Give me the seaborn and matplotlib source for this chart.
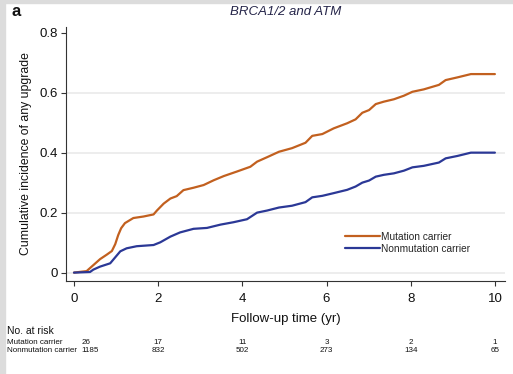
import matplotlib
matplotlib.use("Agg")
import matplotlib.pyplot as plt
import matplotlib.transforms as mtransforms
from matplotlib.patches import Rectangle
import numpy as np
import pandas as pd
import seaborn as sns

# Cumulative incidence of any upgrade over follow-up (years)
time_mut = [0, 0.3, 0.46, 0.62, 0.78, 0.9, 0.98, 1.05, 1.12, 1.21, 1.41, 1.65, 1.89, 1.97,
            2.13, 2.29, 2.44, 2.6, 2.84, 3.08, 3.32, 3.56, 3.87, 4.19, 4.35, 4.59, 4.87,
            5.18, 5.5, 5.66, 5.9, 6.17, 6.49, 6.69, 6.85, 7.01, 7.17, 7.36, 7.6, 7.84,
            8.04, 8.31, 8.67, 8.83, 9.11, 9.43, 10.0]
cif_mut = [0, 0.005, 0.025, 0.045, 0.06, 0.072, 0.095, 0.125, 0.148, 0.165, 0.182, 0.187,
           0.194, 0.207, 0.23, 0.247, 0.255, 0.275, 0.283, 0.292, 0.308, 0.322, 0.337,
           0.353, 0.37, 0.385, 0.403, 0.415, 0.433, 0.456, 0.462, 0.481, 0.498, 0.511,
           0.533, 0.542, 0.562, 0.57, 0.578, 0.59, 0.603, 0.611, 0.626, 0.642, 0.651,
           0.662, 0.662]

time_non = [0, 0.38, 0.46, 0.62, 0.86, 0.98, 1.1, 1.25, 1.49, 1.89, 2.05, 2.29, 2.52,
            2.84, 3.16, 3.48, 3.79, 4.11, 4.35, 4.59, 4.87, 5.18, 5.5, 5.66, 5.9, 6.17,
            6.49, 6.69, 6.85, 7.01, 7.17, 7.36, 7.6, 7.84, 8.04, 8.31, 8.67, 8.83, 9.11,
            9.43, 10.0]
cif_non = [0, 0.002, 0.01, 0.02, 0.031, 0.051, 0.071, 0.081, 0.088, 0.092, 0.101, 0.12,
           0.134, 0.146, 0.149, 0.16, 0.168, 0.178, 0.2, 0.207, 0.217, 0.223, 0.235,
           0.251, 0.256, 0.265, 0.276, 0.287, 0.3, 0.307, 0.32, 0.326, 0.331, 0.34,
           0.351, 0.356, 0.367, 0.381, 0.389, 0.4, 0.4]

groups = ["Mutation carrier", "Nonmutation carrier"]
colors = ["#c2601f", "#2b3896"]

risk_times = [0, 2, 4, 6, 8, 10]
risk_mut = [26, 17, 11, 3, 2, 1]
risk_non = [1185, 832, 502, 273, 134, 65]

x_ticks = [0, 2, 4, 6, 8, 10]
y_ticks = [0, 0.2, 0.4, 0.6, 0.8]
y_tick_labels = ["0", "0.2", "0.4", "0.6", "0.8"]

df = pd.concat([
    pd.DataFrame({"time": time_mut, "cif": cif_mut, "group": groups[0]}),
    pd.DataFrame({"time": time_non, "cif": cif_non, "group": groups[1]}),
], ignore_index=True)

sns.set_style("white")
plt.rcParams["font.family"] = ["Liberation Sans", "DejaVu Sans"]

fig = plt.figure(figsize=(5.13, 3.74), dpi=100)
fig.patch.set_facecolor("white")
W, H = 513, 374
ax = fig.add_axes([66 / W, (H - 281) / H, (505 - 66) / W, (281 - 27) / H])

# light frame strips along the top and left edges
fig.patches.append(Rectangle((0, 1 - 3 / H), 1, 3 / H, transform=fig.transFigure,
                             color="#dcdcdc", zorder=0))
fig.patches.append(Rectangle((0, 0), 5 / W, 1, transform=fig.transFigure,
                             color="#dcdcdc", zorder=0))

ax.set_xlim(-0.19, 10.24)
ax.set_ylim(-0.028, 0.819)

for yv in y_ticks[:-1]:
    ax.axhline(yv, color="#ececec", lw=1.3, zorder=0)

sns.lineplot(data=df, x="time", y="cif", hue="group", hue_order=groups,
             palette=colors, lw=1.6, ax=ax, legend=False, zorder=3)

for side in ["top", "right"]:
    ax.spines[side].set_visible(False)
for side in ["left", "bottom"]:
    ax.spines[side].set_color("#333333")
    ax.spines[side].set_linewidth(0.8)

ax.set_xticks(x_ticks)
ax.set_yticks(y_ticks)
ax.set_yticklabels(y_tick_labels)
ax.tick_params(axis="both", direction="out", length=3.5, width=0.8, color="#333333",
               labelsize=9.5, labelcolor="#111111")
ax.tick_params(axis="x", pad=5)
ax.tick_params(axis="y", pad=2)
ax.tick_params(bottom=True, left=True)

ax.set_xlabel("Follow-up time (yr)", fontsize=9.5, labelpad=6, color="#111111")
ax.set_ylabel("Cumulative incidence of any upgrade", fontsize=8.8, labelpad=6,
              color="#111111")

fig.text(0.5 * (66 + 505) / W, 1 - 12 / H, "BRCA1/2 and ATM", ha="center", va="center",
         fontsize=9.5, style="italic", color="#26264a")
fig.text(12 / W, 1 - 12 / H, "a", ha="left", va="center", fontsize=12,
         fontweight="bold", color="#111111")

# legend inside the plot area
handles = [plt.Line2D([], [], color=c, lw=1.6) for c in colors]
ax.legend(handles, groups, loc="center left", bbox_to_anchor=(275 / 439, 1 - (243 - 27) / 254),
          frameon=False, fontsize=7.3, handlelength=3.4, handletextpad=0.1,
          labelspacing=0.2, borderaxespad=0)

# number-at-risk table below the x axis
trans = mtransforms.blended_transform_factory(ax.transData, fig.transFigure)
fig.text(7 / W, 1 - 331 / H, "No. at risk", ha="left", va="center", fontsize=7.5,
         color="#111111")
fig.text(7 / W, 1 - 342 / H, groups[0], ha="left", va="center", fontsize=5.8,
         color="#111111")
fig.text(7 / W, 1 - 350 / H, groups[1], ha="left", va="center", fontsize=5.8,
         color="#111111")
for i, t in enumerate(risk_times):
    if i == 0:
        xpos, align = t + 0.17, "left"
    else:
        xpos, align = t, "center"
    ax.text(xpos, 1 - 342 / H, str(risk_mut[i]), transform=trans, ha=align,
            va="center", fontsize=5.8, color="#111111")
    ax.text(xpos, 1 - 350 / H, str(risk_non[i]), transform=trans, ha=align,
            va="center", fontsize=5.8, color="#111111")

fig.savefig("out.png", dpi=100, facecolor="white")
